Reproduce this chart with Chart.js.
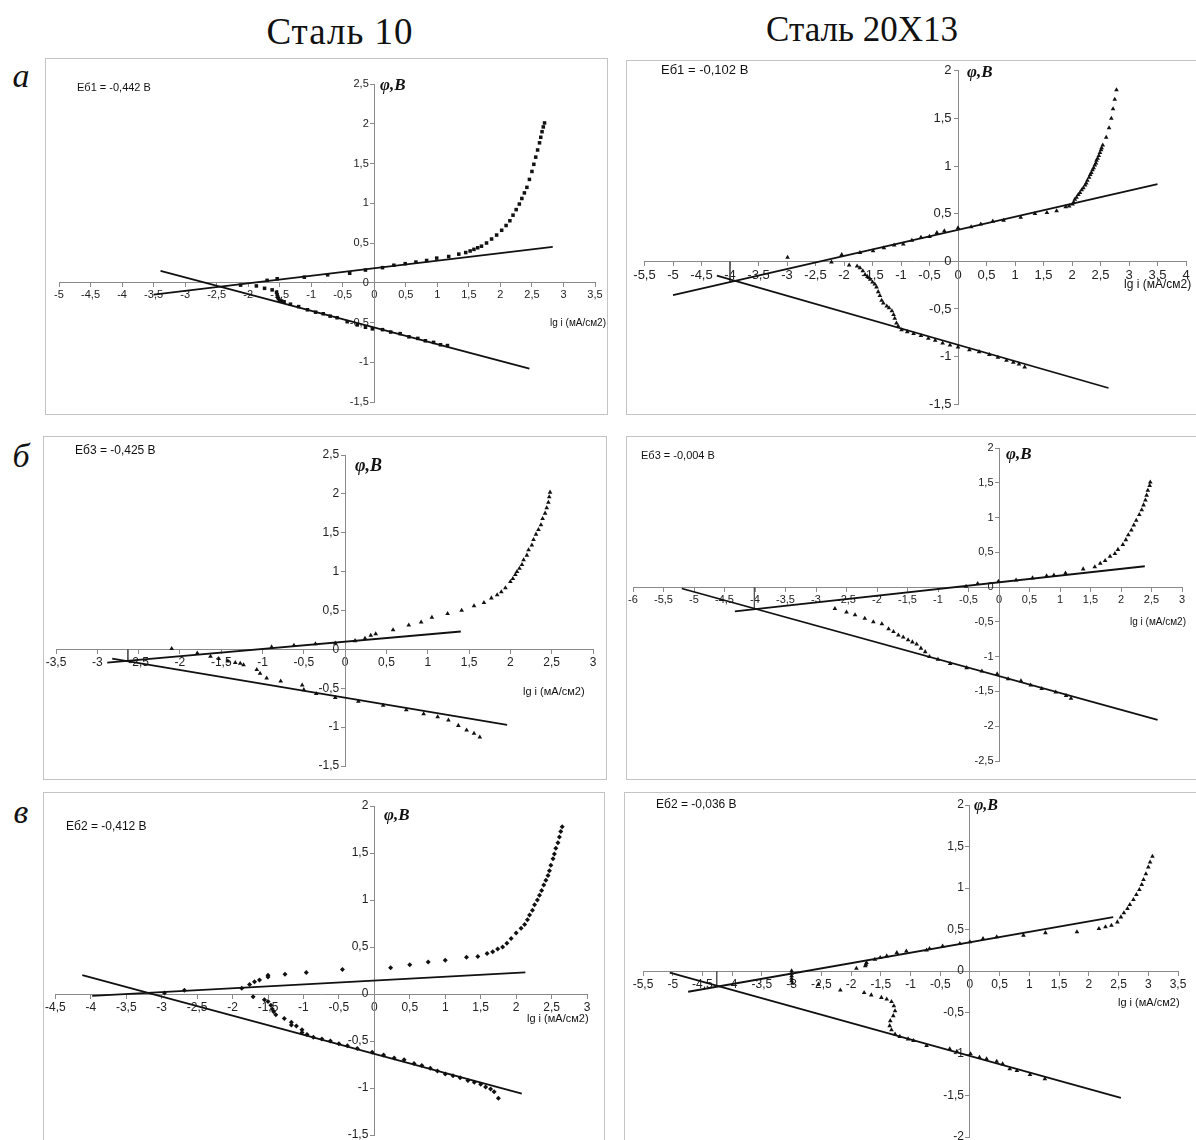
<!DOCTYPE html>
<html lang="ru">
<head>
<meta charset="utf-8">
<title>Поляризационные кривые: Сталь 10 и Сталь 20Х13</title>
<script src="https://cdn.jsdelivr.net/npm/chart.js@4.4.1/dist/chart.umd.min.js"></script>
<style>
  html, body { margin: 0; padding: 0; background: #fff; }
  body { width: 1196px; height: 1140px; position: relative; overflow: hidden; }
  .title { position: absolute; font-family: "Liberation Serif", serif; font-size: 35px; color: #111; transform: translate(-50%, -50%); white-space: nowrap; }
  .tag { position: absolute; font-family: "Liberation Serif", serif; font-style: italic; font-size: 34px; color: #111; transform: translate(-50%, -50%); }
  .box { position: absolute; border: 1px solid #c4c4c4; box-sizing: border-box; }
  canvas { position: absolute; }
</style>
</head>
<body>
<div class="title" style="left:340px;top:31px;font-size:37px;letter-spacing:1px">Сталь 10</div>
<div class="title" style="left:862px;top:30px">Сталь 20Х13</div>
<div class="tag" style="left:21px;top:76px">а</div>
<div class="tag" style="left:21px;top:456px">б</div>
<div class="tag" style="left:21px;top:812px">в</div>

<script>
// ---- Data: lg i (x) and potential φ, V (y) ----

// а, Сталь 10
const st10aAnodX = [-2.12,-1.7,-1.54,-1.11,-0.74,-0.39,-0.14,0.13,0.31,0.49,0.66,0.83,0.99,1.18,1.34,1.45,1.52,1.58,1.64,1.7,1.78,1.86,1.94,2.02,2.09,2.15,2.2,2.25,2.3,2.34,2.38,2.42,2.46,2.5,2.53,2.56,2.59,2.62,2.64,2.66,2.68,2.7];
const st10aAnodY = [-0.03,0.03,0.05,0.07,0.1,0.12,0.16,0.19,0.22,0.24,0.26,0.28,0.31,0.33,0.36,0.38,0.4,0.42,0.44,0.46,0.5,0.55,0.6,0.66,0.72,0.78,0.85,0.92,0.99,1.06,1.13,1.2,1.3,1.4,1.49,1.58,1.67,1.76,1.83,1.9,1.96,2.01];
const st10aCathX = [-1.87,-1.74,-1.62,-1.55,-1.54,-1.53,-1.52,-1.5,-1.47,-1.43,-1.33,-1.2,-1.06,-0.93,-0.81,-0.7,-0.59,-0.43,-0.27,-0.14,-0.03,0.13,0.26,0.41,0.55,0.69,0.81,0.94,1.05,1.16];
const st10aCathY = [-0.04,-0.07,-0.09,-0.12,-0.15,-0.18,-0.2,-0.22,-0.23,-0.24,-0.27,-0.3,-0.34,-0.37,-0.39,-0.42,-0.44,-0.49,-0.53,-0.56,-0.58,-0.59,-0.62,-0.64,-0.68,-0.7,-0.73,-0.75,-0.78,-0.79];
const st10aAnodFitX = [-3.5, 2.83];
const st10aAnodFitY = [-0.15, 0.45];
const st10aCathFitX = [-3.39, 2.46];
const st10aCathFitY = [0.15, -1.08];

// а, Сталь 20Х13
const st20aAnodX = [-2.99,-2.04,-1.72,-1.49,-1.3,-1.12,-0.96,-0.81,-0.65,-0.5,-0.37,-0.24,0,0.23,0.4,0.61,0.8,1.1,1.35,1.56,1.73,1.89,1.95,2.01,2.03,2.05,2.08,2.11,2.14,2.17,2.2,2.23,2.25,2.27,2.3,2.32,2.34,2.36,2.38,2.4,2.42,2.43,2.45,2.47,2.49,2.51,2.52,2.54,2.6,2.65,2.69,2.72,2.75,2.78];
const st20aAnodY = [0.04,0.07,0.09,0.11,0.14,0.17,0.18,0.22,0.25,0.26,0.3,0.32,0.35,0.36,0.39,0.42,0.43,0.46,0.5,0.51,0.53,0.57,0.58,0.6,0.62,0.65,0.67,0.7,0.72,0.75,0.77,0.8,0.82,0.85,0.88,0.91,0.93,0.96,0.98,1.01,1.03,1.06,1.08,1.11,1.14,1.17,1.19,1.22,1.3,1.4,1.5,1.6,1.7,1.8];
const st20aCathX = [-2.22,-1.91,-1.77,-1.72,-1.67,-1.63,-1.59,-1.54,-1.5,-1.46,-1.43,-1.4,-1.37,-1.34,-1.31,-1.25,-1.21,-1.16,-1.13,-1.11,-1.08,-1.05,-0.99,-0.89,-0.78,-0.65,-0.52,-0.4,-0.27,-0.14,0,0.2,0.37,0.55,0.7,0.85,0.97,1.07,1.17];
const st20aCathY = [-0.01,-0.04,-0.05,-0.07,-0.1,-0.14,-0.16,-0.19,-0.22,-0.24,-0.27,-0.32,-0.36,-0.41,-0.44,-0.47,-0.49,-0.52,-0.56,-0.6,-0.65,-0.68,-0.72,-0.74,-0.76,-0.78,-0.81,-0.83,-0.86,-0.88,-0.9,-0.93,-0.95,-0.98,-1.01,-1.04,-1.06,-1.08,-1.11];
const st20aAnodFitX = [-5.0, 3.5];
const st20aAnodFitY = [-0.355, 0.81];
const st20aCathFitX = [-4.23, 2.64];
const st20aCathFitY = [-0.15, -1.33];
const st20aEcorrX = [-4, -4];
const st20aEcorrY = [0, -0.22];

// б, Сталь 10
const st10bAnodX = [-2.1,-1.79,-0.89,-0.62,-0.36,-0.12,0.12,0.24,0.31,0.37,0.58,0.77,0.92,1.05,1.24,1.41,1.56,1.68,1.77,1.84,1.89,1.94,2.0,2.03,2.06,2.08,2.11,2.14,2.16,2.2,2.22,2.26,2.28,2.31,2.34,2.37,2.39,2.42,2.44,2.46,2.47,2.48];
const st10bAnodY = [0.01,-0.05,0.03,0.05,0.07,0.08,0.11,0.14,0.18,0.2,0.25,0.31,0.35,0.41,0.46,0.5,0.56,0.6,0.66,0.7,0.74,0.79,0.87,0.91,0.96,1.0,1.04,1.09,1.15,1.21,1.28,1.34,1.41,1.48,1.54,1.6,1.68,1.75,1.82,1.89,1.96,2.02];
const st10bCathX = [-1.63,-1.53,-1.42,-1.33,-1.27,-1.23,-1.07,-1.03,-0.95,-0.78,-0.52,-0.5,-0.35,-0.12,0.16,0.46,0.74,0.95,1.12,1.25,1.37,1.47,1.56,1.63];
const st10bCathY = [-0.09,-0.12,-0.15,-0.17,-0.18,-0.2,-0.26,-0.31,-0.37,-0.41,-0.46,-0.52,-0.57,-0.62,-0.67,-0.72,-0.78,-0.83,-0.87,-0.91,-0.98,-1.04,-1.08,-1.13];
const st10bAnodFitX = [-2.88, 1.4];
const st10bAnodFitY = [-0.17, 0.23];
const st10bCathFitX = [-2.82, 1.96];
const st10bCathFitY = [-0.12, -0.97];
const st10bEcorrX = [-2.63, -2.63];
const st10bEcorrY = [0, -0.14];

// б, Сталь 20Х13
const st20bAnodX = [-0.54,-0.35,-0.01,0.28,0.55,0.78,0.9,1.09,1.38,1.57,1.66,1.74,1.82,1.9,1.95,2.03,2.08,2.12,2.17,2.21,2.25,2.3,2.34,2.37,2.4,2.42,2.44,2.47,2.48];
const st20bAnodY = [0.01,0.05,0.08,0.1,0.13,0.16,0.17,0.2,0.26,0.29,0.34,0.38,0.44,0.48,0.54,0.61,0.68,0.75,0.82,0.89,0.96,1.04,1.11,1.18,1.25,1.32,1.39,1.46,1.51];
const st20bCathX = [-2.69,-2.5,-2.36,-2.2,-2.06,-1.92,-1.81,-1.73,-1.65,-1.57,-1.49,-1.42,-1.35,-1.28,-1.21,-1.14,-1.0,-0.8,-0.53,-0.28,-0.03,0.15,0.36,0.52,0.7,0.93,1.1,1.18];
const st20bCathY = [-0.31,-0.36,-0.4,-0.45,-0.5,-0.53,-0.6,-0.64,-0.69,-0.72,-0.76,-0.79,-0.82,-0.88,-0.93,-1.0,-1.04,-1.1,-1.16,-1.21,-1.25,-1.32,-1.35,-1.41,-1.46,-1.51,-1.56,-1.6];
const st20bAnodFitX = [-4.33, 2.39];
const st20bAnodFitY = [-0.35, 0.3];
const st20bCathFitX = [-5.2, 2.6];
const st20bCathFitY = [-0.02, -1.91];
const st20bEcorrX = [-4.01, -4.01];
const st20bEcorrY = [0, -0.31];

// в, Сталь 10
const st10cAnodX = [-2.96,-2.68,-1.87,-1.76,-1.69,-1.62,-1.5,-1.5,-1.26,-0.96,-0.45,0.23,0.5,0.76,1.0,1.3,1.46,1.59,1.67,1.74,1.81,1.87,1.93,2.0,2.07,2.12,2.16,2.19,2.23,2.26,2.3,2.33,2.36,2.39,2.42,2.45,2.47,2.49,2.52,2.54,2.56,2.59,2.61,2.63,2.65];
const st10cAnodY = [0.01,0.04,0.06,0.1,0.13,0.15,0.18,0.2,0.21,0.23,0.26,0.28,0.31,0.34,0.36,0.39,0.4,0.43,0.45,0.48,0.5,0.54,0.59,0.65,0.7,0.74,0.79,0.84,0.89,0.95,1.0,1.05,1.1,1.16,1.21,1.26,1.31,1.37,1.44,1.49,1.55,1.61,1.67,1.73,1.78];
const st10cCathX = [-1.71,-1.55,-1.5,-1.46,-1.44,-1.42,-1.39,-1.27,-1.17,-1.17,-1.1,-1.02,-1.02,-0.95,-0.86,-0.74,-0.62,-0.5,-0.38,-0.24,-0.03,0.13,0.28,0.42,0.56,0.67,0.79,0.89,1.0,1.11,1.21,1.32,1.41,1.5,1.57,1.64,1.69,1.75];
const st10cCathY = [-0.03,-0.06,-0.08,-0.12,-0.16,-0.19,-0.22,-0.26,-0.3,-0.33,-0.34,-0.38,-0.41,-0.43,-0.46,-0.48,-0.5,-0.53,-0.55,-0.58,-0.62,-0.65,-0.68,-0.7,-0.74,-0.76,-0.79,-0.82,-0.85,-0.87,-0.89,-0.92,-0.94,-0.96,-0.99,-1.01,-1.04,-1.11];
const st10cAnodFitX = [-3.98, 2.13];
const st10cAnodFitY = [-0.02, 0.23];
const st10cCathFitX = [-4.12, 2.08];
const st10cCathFitY = [0.2, -1.06];

// в, Сталь 20Х13
const st20cAnodX = [-3,-3,-3,-3,-3,-2.99,-1.91,-1.76,-1.75,-1.74,-1.6,-1.51,-1.4,-1.23,-1.07,-0.73,-0.68,-0.46,-0.17,0,0.22,0.45,0.9,1.27,1.8,2.17,2.28,2.38,2.48,2.54,2.59,2.65,2.69,2.75,2.8,2.85,2.89,2.92,2.96,3.0,3.03,3.07];
const st20cAnodY = [0,-0.03,-0.06,-0.09,-0.12,-0.15,0.03,0.06,0.08,0.1,0.14,0.16,0.18,0.22,0.24,0.25,0.27,0.3,0.33,0.35,0.39,0.41,0.43,0.46,0.47,0.51,0.53,0.55,0.59,0.65,0.7,0.75,0.8,0.86,0.92,0.98,1.04,1.1,1.17,1.25,1.31,1.38];
const st20cCathX = [-2.55,-2.18,-1.78,-1.66,-1.49,-1.4,-1.32,-1.28,-1.26,-1.29,-1.34,-1.35,-1.32,-1.26,-1.18,-1.04,-0.95,-0.73,-0.34,-0.22,0.01,0.16,0.28,0.45,0.55,0.67,0.79,1.01,1.26];
const st20cCathY = [-0.16,-0.23,-0.26,-0.29,-0.32,-0.34,-0.37,-0.42,-0.48,-0.54,-0.6,-0.66,-0.71,-0.76,-0.79,-0.82,-0.84,-0.9,-0.94,-0.97,-1.0,-1.04,-1.06,-1.09,-1.12,-1.18,-1.2,-1.25,-1.3];
const st20cAnodFitX = [-4.74, 2.41];
const st20cAnodFitY = [-0.25, 0.65];
const st20cCathFitX = [-5.05, 2.54];
const st20cCathFitY = [-0.02, -1.53];
const st20cEcorrX = [-4.26, -4.26];
const st20cEcorrY = [0, -0.18];

// ---- Panel layout (page pixels): box = frame, area = plot area ----
const panels = [
  { box: [45, 58, 608, 415], area: [59, 84, 595, 402], xr: [-5, 3.5], yr: [-1.5, 2.5], marker: 'rect', font: 11,
    anod: [st10aAnodX, st10aAnodY], cath: [st10aCathX, st10aCathY],
    fits: [[st10aAnodFitX, st10aAnodFitY], [st10aCathFitX, st10aCathFitY]], ecorr: null,
    notes: { box: [45, 58], label: 'Еб1 = -0,442 В', labelAt: [77, 88], labelFont: 11, phiAt: [380, 86], phiFont: 17, lgAt: [550, 323], lgFont: 10 } },
  { box: [626, 60, 1199, 415], area: [644.5, 70, 1186, 406], xr: [-5.5, 4], yr: [-1.5, 2], marker: 'triangle', font: 13,
    anod: [st20aAnodX, st20aAnodY], cath: [st20aCathX, st20aCathY],
    fits: [[st20aAnodFitX, st20aAnodFitY], [st20aCathFitX, st20aCathFitY]], ecorr: [st20aEcorrX, st20aEcorrY],
    notes: { box: [626, 60], label: 'Еб1 = -0,102 В', labelAt: [661, 70], labelFont: 13, phiAt: [967, 73], phiFont: 17, lgAt: [1124, 285], lgFont: 12 } },
  { box: [43, 436, 607, 780], area: [56, 455, 593, 766], xr: [-3.5, 3], yr: [-1.5, 2.5], marker: 'triangle', font: 12,
    anod: [st10bAnodX, st10bAnodY], cath: [st10bCathX, st10bCathY],
    fits: [[st10bAnodFitX, st10bAnodFitY], [st10bCathFitX, st10bCathFitY]], ecorr: [st10bEcorrX, st10bEcorrY],
    notes: { box: [43, 436], label: 'Еб3 = -0,425 В', labelAt: [75, 451], labelFont: 12, phiAt: [355, 466], phiFont: 18, lgAt: [523, 692], lgFont: 11 } },
  { box: [626, 436, 1199, 780], area: [633, 448, 1182, 761], xr: [-6, 3], yr: [-2.5, 2], marker: 'triangle', font: 11,
    anod: [st20bAnodX, st20bAnodY], cath: [st20bCathX, st20bCathY],
    fits: [[st20bAnodFitX, st20bAnodFitY], [st20bCathFitX, st20bCathFitY]], ecorr: [st20bEcorrX, st20bEcorrY],
    notes: { box: [626, 436], label: 'Еб3 = -0,004 В', labelAt: [641, 456], labelFont: 11, phiAt: [1006, 455], phiFont: 17, lgAt: [1130, 622], lgFont: 10 } },
  { box: [43, 792, 605, 1150], area: [54, 806, 587, 1135], xr: [-4.5, 3], yr: [-1.5, 2], marker: 'rectRot', font: 12,
    anod: [st10cAnodX, st10cAnodY], cath: [st10cCathX, st10cCathY],
    fits: [[st10cAnodFitX, st10cAnodFitY], [st10cCathFitX, st10cCathFitY]], ecorr: null,
    notes: { box: [43, 792], label: 'Еб2 = -0,412 В', labelAt: [66, 827], labelFont: 12, phiAt: [384, 816], phiFont: 17, lgAt: [527, 1019], lgFont: 11 } },
  { box: [624, 792, 1199, 1150], area: [643, 805, 1178, 1137], xr: [-5.5, 3.5], yr: [-2, 2], marker: 'triangle', font: 12,
    anod: [st20cAnodX, st20cAnodY], cath: [st20cCathX, st20cCathY],
    fits: [[st20cAnodFitX, st20cAnodFitY], [st20cCathFitX, st20cCathFitY]], ecorr: [st20cEcorrX, st20cEcorrY],
    notes: { box: [624, 792], label: 'Еб2 = -0,036 В', labelAt: [656, 805], labelFont: 12, phiAt: [974, 806], phiFont: 16, lgAt: [1118, 1003], lgFont: 11 } }
];

const sans = '"Liberation Sans", Arial, sans-serif';
const ink = '#111';
const axisGrey = '#8a8a8a';

const pts = (xs, ys) => xs.map((x, i) => ({ x: x, y: ys[i] }));
const comma = v => String(Math.round(v * 10) / 10).replace('.', ',');

// text labels: Eб value, axis titles
const notesPlugin = {
  id: 'notes',
  afterDraw(chart, args, o) {
    const ctx = chart.ctx;
    const ox = o.box[0], oy = o.box[1];
    ctx.save();
    ctx.fillStyle = ink;
    ctx.textAlign = 'left';
    ctx.textBaseline = 'middle';
    ctx.font = o.labelFont + 'px ' + sans;
    ctx.fillText(o.label, o.labelAt[0] - ox, o.labelAt[1] - oy);
    ctx.font = 'italic bold ' + o.phiFont + 'px "Liberation Serif", serif';
    ctx.fillText('φ,В', o.phiAt[0] - ox, o.phiAt[1] - oy);
    ctx.font = o.lgFont + 'px ' + sans;
    ctx.fillText('lg i (мА/см2)', o.lgAt[0] - ox, o.lgAt[1] - oy);
    ctx.restore();
  }
};

panels.forEach(p => {
  const [L, T, R, B] = p.box;
  const [ax0, ay0, ax1, ay1] = p.area;

  const frame = document.createElement('div');
  frame.className = 'box';
  frame.style.left = L + 'px';
  frame.style.top = T + 'px';
  frame.style.width = (R - L) + 'px';
  frame.style.height = (B - T) + 'px';
  document.body.appendChild(frame);

  const canvas = document.createElement('canvas');
  canvas.width = R - L;
  canvas.height = B - T;
  canvas.style.left = L + 'px';
  canvas.style.top = T + 'px';
  document.body.appendChild(canvas);

  const datasets = [];
  p.fits.forEach(f => {
    datasets.push({ data: pts(f[0], f[1]), showLine: true, borderColor: ink, borderWidth: 1.8, pointRadius: 0 });
  });
  if (p.ecorr) {
    datasets.push({ data: pts(p.ecorr[0], p.ecorr[1]), showLine: true, borderColor: '#555', borderWidth: 1, pointRadius: 0 });
  }
  [p.anod, p.cath].forEach(s => {
    datasets.push({
      data: pts(s[0], s[1]),
      pointStyle: p.marker,
      pointRadius: p.marker === 'triangle' ? 2.7 : 2.5,
      backgroundColor: ink,
      borderColor: ink,
      borderWidth: 0
    });
  });

  const tickFont = { family: sans, size: p.font };

  new Chart(canvas, {
    type: 'scatter',
    data: { datasets: datasets },
    options: {
      responsive: false,
      animation: false,
      events: [],
      layout: { padding: { left: ax0 - L, top: ay0 - T, right: R - ax1, bottom: B - ay1 } },
      plugins: {
        legend: { display: false },
        tooltip: { enabled: false },
        notes: p.notes
      },
      scales: {
        x: {
          type: 'linear',
          min: p.xr[0],
          max: p.xr[1],
          position: { y: 0 },
          afterFit: s => { s.height = 0; },
          ticks: { stepSize: 0.5, autoSkip: false, maxRotation: 0, font: tickFont, color: '#222', padding: 2, callback: comma },
          grid: { drawOnChartArea: false, tickLength: 4, color: axisGrey },
          border: { color: axisGrey, width: 1 }
        },
        y: {
          type: 'linear',
          min: p.yr[0],
          max: p.yr[1],
          position: { x: 0 },
          afterFit: s => { s.width = 0; },
          // labels sit right at the axis line here, so pad them with spaces
          ticks: { stepSize: 0.5, autoSkip: false, font: tickFont, color: '#222', callback: v => comma(v) + '\u2002' },
          grid: { drawOnChartArea: false, tickLength: 4, color: axisGrey },
          border: { color: axisGrey, width: 1 }
        }
      }
    },
    plugins: [notesPlugin]
  });
});
</script>
</body>
</html>
